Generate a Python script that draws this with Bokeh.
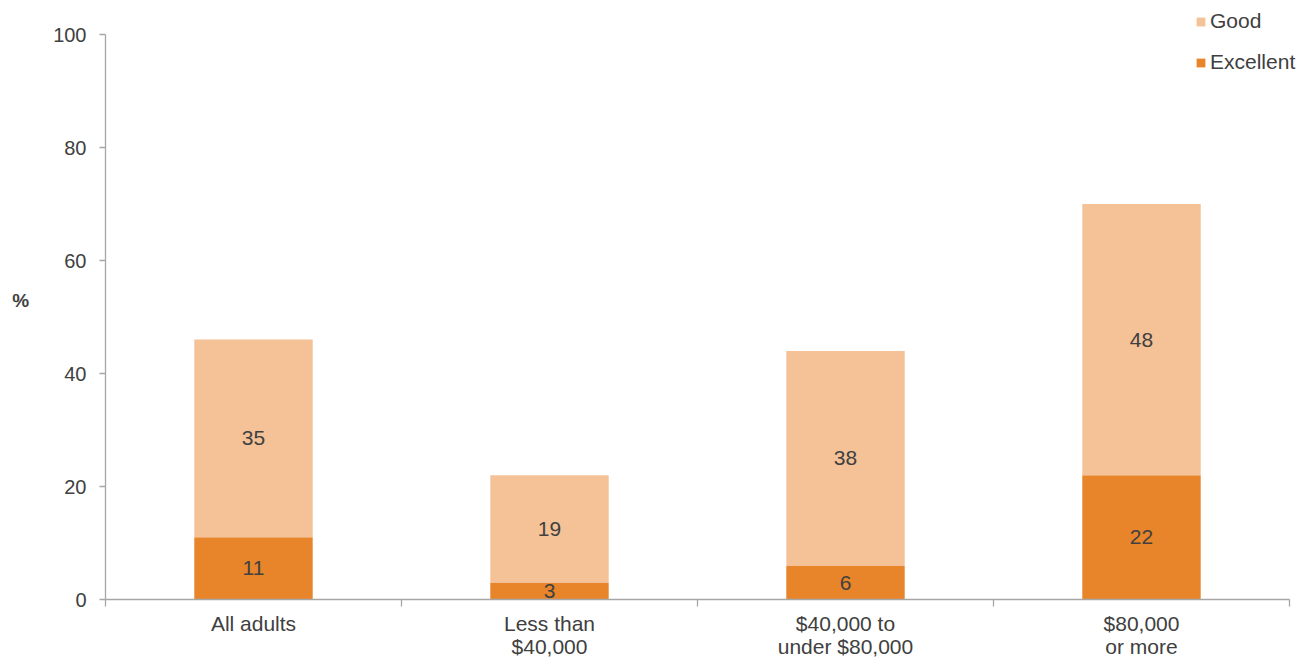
from bokeh.plotting import figure
from bokeh.models import (ColumnDataSource, Range1d, FixedTicker, Legend, LegendItem)
from bokeh.core.properties import value
from bokeh.embed import file_html
from bokeh.resources import INLINE

categories = ["All adults", "Less than\n$40,000", "$40,000 to\nunder $80,000", "$80,000\nor more"]
excellent = [11, 3, 6, 22]
good = [35, 19, 38, 48]
y_ticks = [0, 20, 40, 60, 80, 100]

C_EXC = "#E8842A"
C_GOOD = "#F4C296"
TXT = "#404040"
AX = "#A6A6A6"
FONT = "Liberation Sans"

n = len(categories)
xc = [i + 0.5 for i in range(n)]
tops = [e + g for e, g in zip(excellent, good)]
src = ColumnDataSource(dict(x=xc, excellent=excellent, good=good, top=tops,
                            exc_mid=[e / 2 for e in excellent],
                            good_mid=[e + g / 2 for e, g in zip(excellent, good)],
                            exc_txt=[str(v) for v in excellent],
                            good_txt=[str(v) for v in good]))

# frame extended above 100 and to the right of the last category so the legend fits;
# the axes themselves are bounded to the data extent
FW, FH = 1200, 599
x_end = n * FW / 1184
y_end = 100 * FH / 565

p = figure(frame_width=FW, frame_height=FH, output_backend="svg", toolbar_location=None,
           x_range=Range1d(0, x_end), y_range=Range1d(0, y_end),
           min_border_left=105, min_border_right=0, min_border_top=0, min_border_bottom=50)
p.outline_line_color = None
p.xgrid.visible = False
p.ygrid.visible = False

r_exc = p.vbar(x="x", width=0.4, bottom=0, top="excellent", source=src,
               fill_color=C_EXC, line_color=None)
r_good = p.vbar(x="x", width=0.4, bottom="excellent", top="top", source=src,
                fill_color=C_GOOD, line_color=None)

p.text(x="x", y="exc_mid", text="exc_txt", source=src, text_align="center",
       text_baseline="middle", text_font=value(FONT), text_font_size="21px", text_color=TXT)
p.text(x="x", y="good_mid", text="good_txt", source=src, text_align="center",
       text_baseline="middle", text_font=value(FONT), text_font_size="21px", text_color=TXT)

# x axis
xa = p.xaxis[0]
xa.bounds = (0, n)
xa.ticker = FixedTicker(ticks=xc, minor_ticks=list(range(n + 1)))
xa.major_label_overrides = {x: c for x, c in zip(xc, categories)}
xa.major_tick_out = 0
xa.major_tick_in = 0
xa.minor_tick_out = 7
xa.minor_tick_in = 0
xa.minor_tick_line_color = AX
xa.minor_tick_line_width = 1.3
xa.axis_line_color = AX
xa.axis_line_width = 1.3
xa.major_label_text_font = FONT
xa.major_label_text_font_size = "21px"
xa.major_label_text_color = TXT
xa.major_label_text_line_height = 1.0
xa.major_label_standoff = 5

ya = p.yaxis[0]
ya.bounds = (0, 100)
ya.ticker = FixedTicker(ticks=y_ticks)
ya.major_tick_out = 6
ya.major_tick_in = 0
ya.minor_tick_out = 0
ya.minor_tick_in = 0
ya.major_tick_line_color = AX
ya.major_tick_line_width = 1.3
ya.axis_line_color = AX
ya.axis_line_width = 1.3
ya.major_label_text_font = FONT
ya.major_label_text_font_size = "20px"
ya.major_label_text_color = TXT
ya.major_label_standoff = 13
ya.axis_label = "%"
ya.axis_label_orientation = "horizontal"
ya.axis_label_text_font = FONT
ya.axis_label_text_font_size = "19px"
ya.axis_label_text_font_style = "bold"
ya.axis_label_text_color = TXT
ya.axis_label_standoff = 21

legend = Legend(items=[LegendItem(label="Good", renderers=[r_good]),
                       LegendItem(label="Excellent", renderers=[r_exc])],
                location=(1090, 525), glyph_width=11, glyph_height=11,
                label_standoff=4, spacing=17, padding=0, margin=0,
                label_text_font=FONT, label_text_font_size="21px", label_text_color=TXT,
                border_line_color=None, background_fill_alpha=0)
p.add_layout(legend)

open("out.html", "w").write(file_html(p, INLINE))
